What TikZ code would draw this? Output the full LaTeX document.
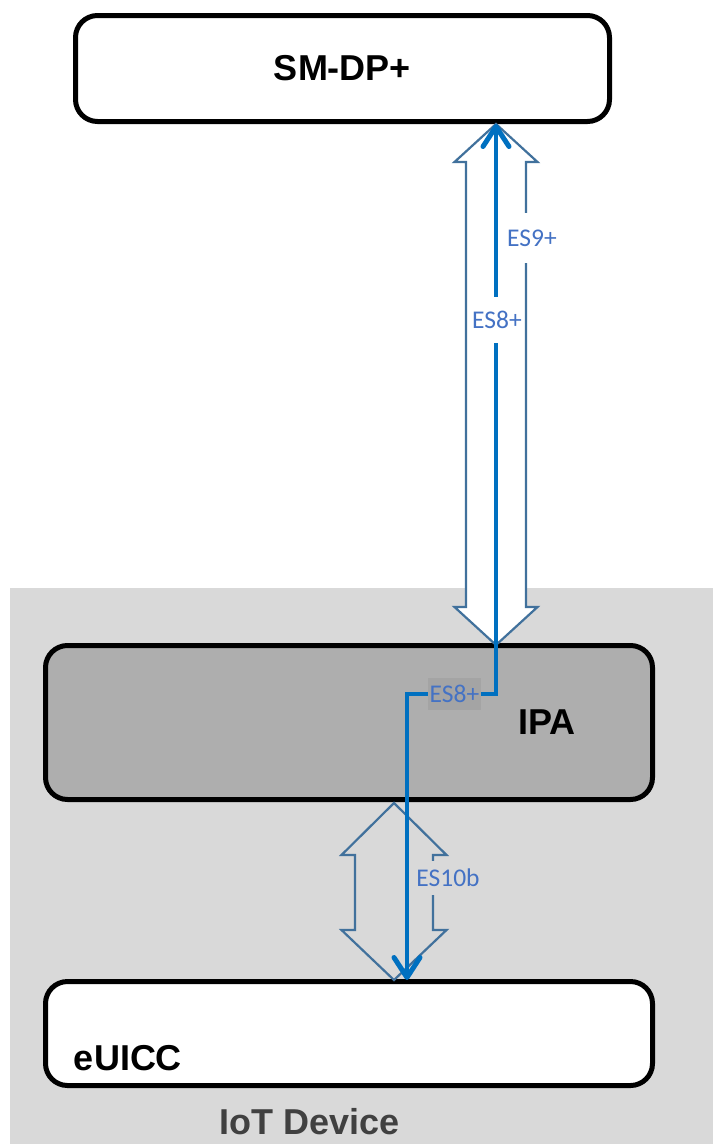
\documentclass[tikz,border=0pt]{standalone}
\usepackage{fontspec}
\setmainfont{Liberation Sans}
\newfontfamily\calibri{Carlito}
\usetikzlibrary{arrows.meta,calc,positioning}
\definecolor{bggray}{HTML}{D9D9D9}
\definecolor{ipagray}{HTML}{AEAEAE}
\definecolor{lblgray}{HTML}{A4A4A4}
\definecolor{esblue}{HTML}{0070C0}
\definecolor{txtblue}{HTML}{4472C4}
\definecolor{outblue}{HTML}{41719C}
\tikzset{
  box/.style={draw=black,line width=5pt,rounded corners=22pt,inner sep=0pt},
  boxtext/.style={font=\fontsize{36}{40}\selectfont\bfseries},
  hollow/.style={draw=outblue,line width=2.2pt,line join=miter},
  esline/.style={draw=esblue,line width=4pt,-{Straight Barb[length=20pt,width=26pt,line width=5pt,round]}},
  eslabel/.style={text=txtblue,font=\calibri\fontsize{25.5}{28}\selectfont,inner xsep=2pt,inner ysep=0pt},
}

\begin{document}
\begin{tikzpicture}[x=1pt,y=-1pt]
  \useasboundingbox (0,0) rectangle (713,1144);
  \fill[bggray] (10,588) rectangle (713,1144);
  % boxes
  \node[box,fill=white,minimum width=534pt,minimum height=106pt] (smdp) at (342.5,68.5) {};
  \node[box,fill=ipagray,minimum width=607pt,minimum height=154pt] (ipa) at (349,722.5) {};
  \node[box,fill=white,minimum width=607pt,minimum height=104pt] (euicc) at (349,1033.5) {};
  \node[boxtext] (smdptext) at (smdp.center) {SM-DP+};
  \node[boxtext] (ipatext) at (547,722) {IPA};
  \node[boxtext] (euicctext) at (128,1058) {eUICC};
  \node[boxtext,text=black!75] (iot) at (310,1122) {IoT Device};
  % hollow arrows
  \coordinate (ua) at (496,124);
  \coordinate (ub) at (496,645);
  \draw[hollow,fill=white] (ua) -- ++(41.5,38) -- ++(-11.5,0) -- ++(0,445) -- ++(11.5,0) -- (ub)
    -- ++(-41.5,-38) -- ++(11.5,0) -- ++(0,-445) -- ++(-11.5,0) -- cycle;
  \coordinate (la) at (394,803);
  \coordinate (lb) at (394,980);
  \draw[hollow] (la) -- ++(52.5,52) -- ++(-13.5,0) -- ++(0,75) -- ++(13.5,0) -- (lb)
    -- ++(-52.5,-50) -- ++(13.5,0) -- ++(0,-75) -- ++(-13.5,0) -- cycle;
  % ES lines
  \node[eslabel,fill=lblgray,minimum width=53pt,minimum height=32pt] (es8ipa) at (454.5,694) {ES8+};
  \coordinate (ttop) at (496,124);
  \coordinate (tbot) at (407,980);
  \draw[esline] (es8ipa.east) -| (ttop);
  \draw[esline] (es8ipa.west) -| (tbot);
  \node[eslabel,fill=white,minimum height=46pt] (es8) at (497,320) {ES8+};
  \node[eslabel,fill=white,minimum height=50pt] (es9) at (532,238) {ES9+};
  \node[eslabel,fill=bggray,minimum height=34pt] (es10) at (448,878) {ES10b};
\end{tikzpicture}
\end{document}
